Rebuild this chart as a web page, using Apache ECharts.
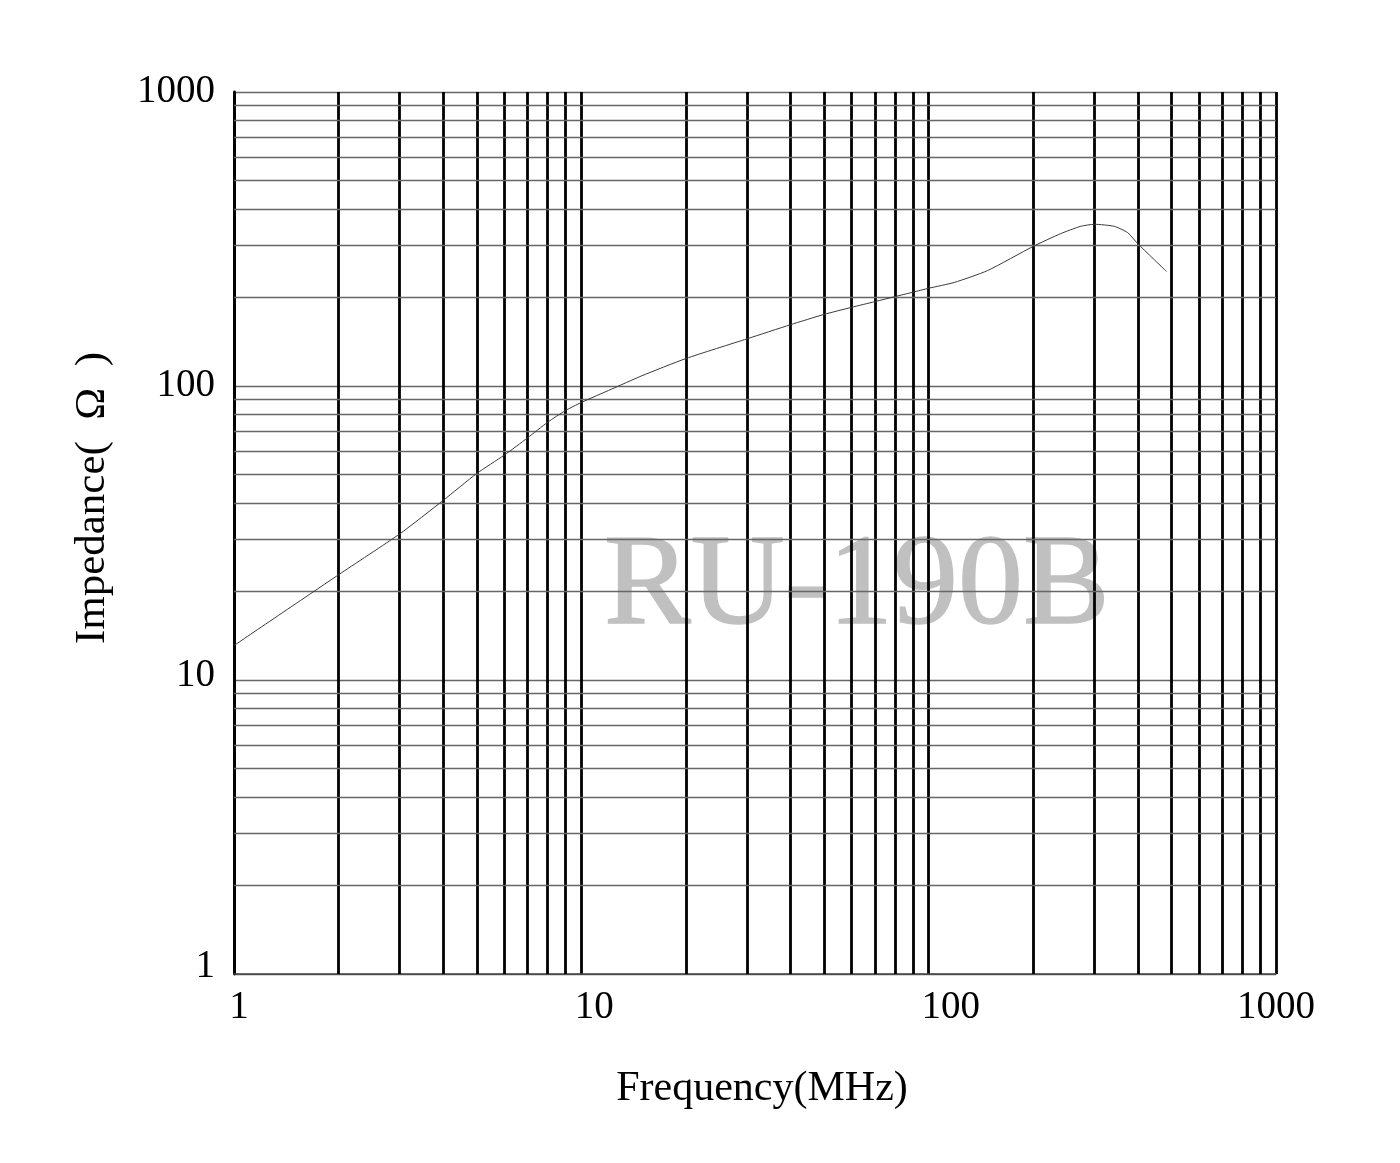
<!DOCTYPE html>
<html>
<head>
<meta charset="utf-8">
<script src="https://cdn.jsdelivr.net/npm/echarts@6/dist/echarts.min.js"></script>
<style>
html,body{margin:0;padding:0;background:#fff;}
#chart{width:1400px;height:1163px;}
</style>
</head>
<body>
<div id="chart"></div>
<script>
// ---- data ----
const frequency = [1, 2, 3, 4, 5, 6, 7, 8, 9, 10, 12.2, 14.9, 20, 30, 40, 50, 60, 70, 80, 90, 100, 118.5, 147.8, 200, 240, 274, 300, 342, 374, 400, 484];
const impedance = [13.1, 22.8, 31.4, 40.8, 50.4, 58.2, 66.6, 75.3, 82.5, 87.9, 97.5, 108.2, 124, 144.7, 161.6, 175.2, 185.2, 193.6, 201.4, 208.4, 215, 225, 247, 298.5, 329.8, 349.3, 354.8, 349.3, 332.4, 304.9, 245.2];
const xTickLabels = ['1', '10', '100', '1000'];
const yTickLabels = ['1', '10', '100', '1000'];
const xMinorGrid = [2, 3, 4, 5, 6, 7, 8, 9, 20, 30, 40, 50, 60, 70, 80, 90, 200, 300, 400, 500, 600, 700, 800, 900];
const yMinorGrid = [2, 3, 4, 5, 6, 7, 8, 9, 20, 30, 40, 50, 60, 70, 80, 90, 200, 300, 400, 500, 600, 700, 800, 900];
const xAxisName = 'Frequency(MHz)';
const yAxisName = 'Impedance(  Ω  )';
const watermark = 'RU-190B';

const FONT = '"Liberation Serif", "Times New Roman", "DejaVu Serif", serif';
const chart = echarts.init(document.getElementById('chart'), null, {renderer: 'canvas'});

const xLabelRich = {
  x0: {fontFamily: FONT, fontSize: 39, color: '#000', padding: [0, 0, 0, 10]},
  x1: {fontFamily: FONT, fontSize: 39, color: '#000', padding: [0, 0, 0, 26]},
  x2: {fontFamily: FONT, fontSize: 39, color: '#000', padding: [0, 0, 0, 44]},
  x3: {fontFamily: FONT, fontSize: 39, color: '#000', padding: [0, 0, 0, 0]}
};
const yLabelRich = {
  y0: {fontFamily: FONT, fontSize: 39, color: '#000', padding: [0, 0, 14, 0]},
  y1: {fontFamily: FONT, fontSize: 39, color: '#000', padding: [0, 0, 8, 0]},
  y2: {fontFamily: FONT, fontSize: 39, color: '#000', padding: [0, 0, 0, 0]},
  y3: {fontFamily: FONT, fontSize: 39, color: '#000', padding: [0, 0, 0, 0]}
};

function idx(v) { return Math.round(Math.log10(v)); }

const markData = [];
xMinorGrid.forEach(v => markData.push({xAxis: v, lineStyle: {color: '#000', width: 2.8, type: 'solid'}}));
yMinorGrid.forEach(v => markData.push({yAxis: v, lineStyle: {color: '#666', width: 1.3, type: 'solid'}}));

const option = {
  backgroundColor: '#fff',
  animation: false,
  graphic: [{
    type: 'text',
    z: -10,
    zlevel: 0,
    x: 604,
    y: 589,
    style: {
      text: watermark,
      fontFamily: FONT,
      fontSize: 130,
      fill: '#c0c0c0',
      stroke: '#c0c0c0',
      lineWidth: 1.5,
      align: 'left',
      verticalAlign: 'middle'
    }
  }],
  grid: {left: 234, right: 124, top: 92, bottom: 189, containLabel: false},
  xAxis: {
    type: 'log',
    logBase: 10,
    min: 1,
    max: 1000,
    name: xAxisName,
    nameLocation: 'middle',
    nameGap: 94,
    nameTextStyle: {fontFamily: FONT, fontSize: 42, color: '#000', padding: [0, 0, 0, 14]},
    axisLine: {show: true, onZero: false, lineStyle: {color: '#444', width: 1.5}},
    axisTick: {show: false},
    axisLabel: {
      margin: 14,
      formatter: function (v) { const i = idx(v); return '{x' + i + '|' + xTickLabels[i] + '}'; },
      rich: xLabelRich
    },
    splitLine: {show: true, lineStyle: {color: '#000', width: 2.8}},
    minorTick: {show: false},
    minorSplitLine: {show: false}
  },
  yAxis: {
    type: 'log',
    logBase: 10,
    min: 1,
    max: 1000,
    name: yAxisName,
    nameLocation: 'middle',
    nameGap: 120,
    nameRotate: 90,
    nameTextStyle: {fontFamily: FONT, fontSize: 43, color: '#000', padding: [0, 0, 0, 70]},
    axisLine: {show: true, onZero: false, lineStyle: {color: '#000', width: 2.8}},
    axisTick: {show: false},
    axisLabel: {
      margin: 19,
      formatter: function (v) { const i = idx(v); return '{y' + i + '|' + yTickLabels[i] + '}'; },
      rich: yLabelRich
    },
    splitLine: {show: true, lineStyle: {color: '#666', width: 1.3}},
    minorTick: {show: false},
    minorSplitLine: {show: false}
  },
  series: [{
    type: 'line',
    data: frequency.map((f, i) => [f, impedance[i]]),
    showSymbol: false,
    smooth: 0.2,
    lineStyle: {color: '#3a3a3a', width: 1},
    z: 5,
    markLine: {
      silent: true,
      symbol: ['none', 'none'],
      label: {show: false},
      animation: false,
      data: markData
    }
  }]
};
chart.setOption(option);
</script>
</body>
</html>
